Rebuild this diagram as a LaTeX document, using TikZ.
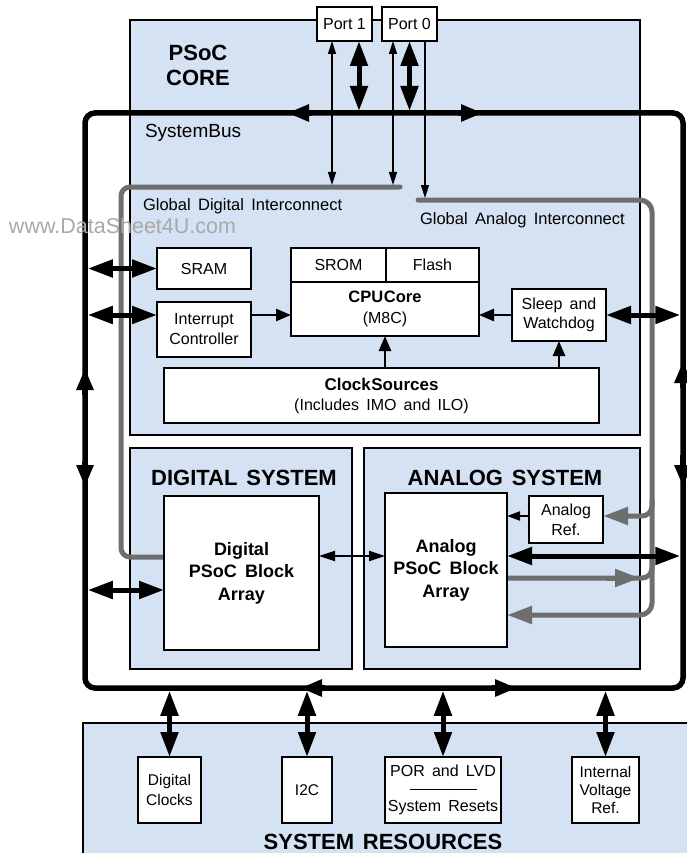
\documentclass[tikz,border=0pt]{standalone}
\usepackage{fontspec}
\setmainfont{Liberation Sans}
\usetikzlibrary{arrows.meta}
\definecolor{coreblue}{HTML}{D5E2F3}
\definecolor{gline}{HTML}{6E6E6E}
\definecolor{wmark}{HTML}{A8A8A8}
\newcommand{\wsp}{\hspace{0.45em}}
\newcommand{\tsp}{\hspace{0.4em}}
\newcommand{\fsz}[2]{\fontsize{#1}{#2}\selectfont}
\pgfdeclarelayer{back}
\pgfdeclarelayer{midl}
\pgfsetlayers{back,midl,main}
\begin{document}
\begin{tikzpicture}[x=1pt,y=-1pt,
 region/.style={draw=black,line width=2pt,fill=coreblue,inner sep=0pt,outer sep=0pt},
 blk/.style={draw=black,line width=1.2pt,fill=white,inner sep=0pt,outer sep=0pt,align=center,font=\fsz{16}{18.5}},
 lbl/.style={inner sep=0pt,outer sep=0pt,align=center},
 busline/.style={line width=5.5pt},
 busarr/.style={line width=5.5pt,-{Triangle[length=22pt,width=16pt]}},
 gl/.style={draw=gline,line width=5pt,line cap=round},
 garr/.style={-{Triangle[length=25pt,width=17pt]}},
 dbl/.style={line width=5pt,{Triangle[length=25pt,width=17pt]}-{Triangle[length=25pt,width=17pt]}},
 pthin/.style={line width=1.5pt,{Triangle[length=13pt,width=8pt]}-{Triangle[length=13pt,width=8pt]}},
 pone/.style={line width=1.5pt,-{Triangle[length=13pt,width=8pt]}},
 marr/.style={line width=2.5pt,-{Triangle[length=15pt,width=12pt]}},
 dthin/.style={line width=2pt,{Triangle[length=16pt,width=10pt]}-{Triangle[length=16pt,width=10pt]}},
]
\useasboundingbox (0,0) rectangle (686,853);

% ---------- regions
\begin{pgfonlayer}{back}
\node[region, minimum width=510pt, minimum height=415pt] (core) at (385,227.5) {};
\node[region, minimum width=222pt, minimum height=221pt] (digsys) at (241,558.5) {};
\node[region, minimum width=276pt, minimum height=221pt] (anasys) at (502,558.5) {};
\node[region, minimum width=617pt, minimum height=147pt] (sysres) at (391.5,796.5) {};
\end{pgfonlayer}

% ---------- blocks
\node[blk, minimum width=55pt, minimum height=34pt] (port1) at (344.5,24) {Port 1};
\node[blk, minimum width=55pt, minimum height=34pt] (port0) at (409.5,24) {Port 0};
\node[blk, minimum width=94pt, minimum height=41pt] (sram) at (204,268.5) {SRAM};
\node[blk, minimum width=94pt, minimum height=55pt, font=\fsz{16}{20}] (intc) at (204,329.5) {Interrupt\\Controller};
\node[blk, minimum width=95pt, minimum height=34pt] (srom) at (338.5,265) {SROM};
\node[blk, minimum width=93pt, minimum height=34pt] (flash) at (432.5,265) {Flash};
\node[blk, minimum width=188pt, minimum height=54pt, font=\fsz{16}{21}] (cpu) at (385,309) {{\bfseries\fsz{16.5}{21}CPU\kern0.6pt Core}\\(M8C)};
\node[blk, minimum width=435pt, minimum height=55pt, font=\fsz{16}{20}] (clk) at (381.5,395.5) {{\bfseries\fsz{17}{20}Clock\kern0.6pt Sources}\\(Includes\wsp IMO\wsp and\wsp ILO)};
\node[blk, minimum width=94pt, minimum height=52pt] (sleep) at (559,315) {Sleep\wsp and\\Watchdog};
\node[blk, minimum width=155pt, minimum height=154pt, font=\bfseries\fsz{18}{22.5}] (digarr) at (241.5,573) {Digital\\PSoC\wsp Block\\Array};
\node[blk, minimum width=122pt, minimum height=154pt, font=\bfseries\fsz{18}{22.5}] (anarr) at (446,570) {Analog\\PSoC\wsp Block\\Array};
\node[blk, minimum width=74pt, minimum height=47pt, font=\fsz{16}{20}] (aref) at (566,519.5) {Analog\\Ref.};
\node[blk, minimum width=63pt, minimum height=66pt, font=\fsz{15.5}{19.5}] (dclk) at (169.5,790) {Digital\\Clocks};
\node[blk, minimum width=50pt, minimum height=66pt, font=\fsz{15.5}{18}] (i2c) at (307,790) {I2C};
\node[blk, minimum width=116pt, minimum height=66pt, font=\fsz{16}{17.5}] (por) at (443,790) {POR\wsp and\wsp LVD\\\rule[4pt]{67pt}{0.8pt}\\System\wsp Resets};
\node[blk, minimum width=67pt, minimum height=66pt, font=\fsz{15.5}{18}] (ivr) at (605.5,790) {Internal\\Voltage\\Ref.};

% ---------- coordinates
\coordinate (bTL) at (85,113);
\coordinate (bBR) at (683,688);
\coordinate (gd1) at (332,185);
\coordinate (bus1) at (359,111);
\coordinate (gd0) at (393,185);
\coordinate (bus0) at (409.5,111);
\coordinate (ga0) at (425,198);
\coordinate (gdR) at (400,187);
\coordinate (gdL) at (121,187);
\coordinate (gdB) at (121,557);
\coordinate (gaL) at (418,200);
\coordinate (gaTR) at (652,200);
\coordinate (gaBR) at (652,615);
\coordinate (arB) at (652,500);
\coordinate (arY) at (600,516);
\coordinate (midR) at (652,578);
\coordinate (midT) at (652,555);
\coordinate (dY) at (100,590);
\coordinate (daY) at (100,556);

% ---------- bus and interconnects
\begin{pgfonlayer}{midl}
\draw[busline, rounded corners=10pt] (bTL) rectangle (bBR);
\draw[busarr] (312,113) -- (287,113);
\draw[busarr] (458,113) -- (483,113);
\draw[busarr] (85,395) -- (85,368);
\draw[busarr] (85,462) -- (85,487);
\draw[busarr] (683,388) -- (683,361);
\draw[busarr] (683,455) -- (683,487);
\draw[busarr] (325,688) -- (300,688);
\draw[busarr] (492,688) -- (517,688);
\draw[gl, rounded corners=9pt] (gdR) -- (gdL) -- (gdB) -- (digarr.west |- gdB);
\draw[gl, garr, rounded corners=12pt] (gaL) -- (gaTR) -- (gaBR) -- (anarr.east |- gaBR);
\draw[gl, garr, rounded corners=10pt] (arB) -- (arB |- arY) -- (aref.east |- arY);
\draw[gl, rounded corners=10pt] (anarr.east |- midR) -- (midR) -- (midT);
\draw[gl, garr] ([xshift=-45pt]midR) -- ([xshift=-12pt]midR);
\end{pgfonlayer}

% ---------- connectors
\draw[pthin] (port1.south -| gd1) -- (gd1);
\draw[dbl] (port1.south -| bus1) -- (bus1);
\draw[pthin] (port0.south -| gd0) -- (gd0);
\draw[dbl] (port0.south -| bus0) -- (bus0);
\draw[pone] (port0.south -| ga0) -- (ga0);
\draw[marr] (intc.east |- sleep.west) -- (cpu.west |- sleep.west);
\draw[marr] (sleep.west) -- (cpu.east |- sleep.west);
\draw[marr] (clk.north -| cpu.south) -- (cpu.south);
\draw[marr] (clk.north -| sleep.south) -- (sleep.south);
\draw[line width=2pt, -{Triangle[length=13pt,width=9pt]}] (aref.west |- arY) -- (anarr.east |- arY);
\draw[dbl, shorten <=2.75pt] (bTL |- sram.west) -- (sram.west);
\draw[dbl, shorten <=2.75pt] (bTL |- sleep.west) -- (intc.west |- sleep.west);
\draw[dbl, shorten >=2.75pt] (sleep.east) -- (bBR |- sleep.east);
\draw[dbl, shorten <=2.75pt] (bTL |- dY) -- (digarr.west |- dY);
\draw[dbl, shorten >=2.75pt] (anarr.east |- daY) -- (bBR |- daY);
\draw[dthin] (digarr.east |- daY) -- (anarr.west |- daY);
\draw[dbl, shorten <=2.75pt] (dclk.north |- bBR) -- (dclk.north);
\draw[dbl, shorten <=2.75pt] (i2c.north |- bBR) -- (i2c.north);
\draw[dbl, shorten <=2.75pt] (por.north |- bBR) -- (por.north);
\draw[dbl, shorten <=2.75pt] (ivr.north |- bBR) -- (ivr.north);

% ---------- labels
\node[lbl, font=\bfseries\fsz{22}{25}] (coret) at (198,65) {PSoC\\CORE};
\node[lbl, anchor=west, font=\fsz{19}{19}] (sbus) at (145,133) {SystemBus};
\node[lbl, anchor=west, font=\fsz{16.5}{16.5}] (gdit) at (143,206) {Global\wsp Digital\wsp Interconnect};
\node[lbl, anchor=west, font=\fsz{16.5}{16.5}] (gait) at (420,220) {Global\wsp Analog\wsp Interconnect};
\node[lbl, font=\bfseries\fsz{22}{22}] (dst) at (244,478) {DIGITAL\tsp SYSTEM};
\node[lbl, font=\bfseries\fsz{22}{22}] (ast) at (505,478) {ANALOG\tsp SYSTEM};
\node[lbl, font=\bfseries\fsz{22}{22}] (srt) at (383,842) {SYSTEM\tsp RESOURCES};
\node[lbl, anchor=west, text=wmark, font=\fsz{21.5}{21.5}] (wm) at (9,226) {www.DataSheet4U.com};
\end{tikzpicture}
\end{document}
